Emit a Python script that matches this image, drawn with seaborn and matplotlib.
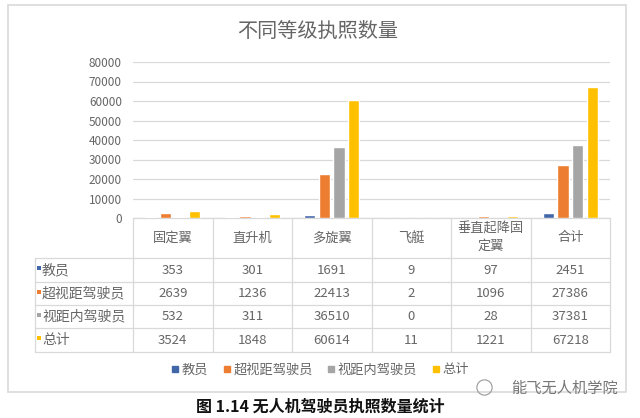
import numpy as np
import pandas as pd
import matplotlib
matplotlib.use("Agg")
import matplotlib.pyplot as plt
from matplotlib.lines import Line2D
from matplotlib.patches import Rectangle
import seaborn as sns

# ---------------- data ----------------
categories = ['固定翼', '直升机', '多旋翼', '飞艇', '垂直起降固定翼', '合计']
header_labels = ['固定翼', '直升机', '多旋翼', '飞艇', '垂直起降固\n定翼', '合计']
series_names = ['教员', '超视距驾驶员', '视距内驾驶员', '总计']

jiaoyuan = [353, 301, 1691, 9, 97, 2451]
chaoshiju = [2639, 1236, 22413, 2, 1096, 27386]
shijunei = [532, 311, 36510, 0, 28, 37381]
zongji = [3524, 1848, 60614, 11, 1221, 67218]

colors = ['#4267A8', '#ED7D31', '#A5A5A5', '#FFC000']

series_values = [jiaoyuan, chaoshiju, shijunei, zongji]
rows = []
for name, vals in zip(series_names, series_values):
    for cat, v in zip(categories, vals):
        rows.append({'类别': cat, '等级': name, '数量': v})
df = pd.DataFrame(rows)

# ---------------- style ----------------
sns.set_theme(style="white")
plt.rcParams['font.family'] = ['Noto Sans CJK SC', 'DejaVu Sans']
text_color = '#666666'
line_color = '#D9D9D9'

W, H = 640, 418
fig = plt.figure(figsize=(W / 100, H / 100), dpi=100)
fig.patch.set_facecolor('white')

# overlay in pixel coords (y going down) for table, legend, frame, caption
ov = fig.add_axes([0, 0, 1, 1])
ov.set_xlim(0, W)
ov.set_ylim(H, 0)
ov.axis('off')
ov.patch.set_visible(False)

# bar chart
ax = fig.add_axes([133 / W, (H - 218) / H, (610 - 133) / W, (218 - 62) / H])
sns.barplot(data=df, x='类别', y='数量', hue='等级', order=categories,
            hue_order=series_names, palette=colors, width=0.74, gap=0.23,
            saturation=1, ax=ax, legend=False)
ax.set_xlim(-0.5, len(categories) - 0.5)
ax.set_ylim(0, 80000)
ax.set_yticks(np.arange(0, 80001, 10000))
ax.yaxis.grid(True, color=line_color, linewidth=0.9)
ax.set_axisbelow(True)
for s in ax.spines.values():
    s.set_visible(False)
ax.set_xticks([])
ax.set_xlabel('')
ax.set_ylabel('')
ax.tick_params(axis='y', length=0, pad=8, labelsize=8.5, labelcolor=text_color)
ax.patch.set_visible(False)

# title
ov.text(318, 31, '不同等级执照数量', ha='center', va='center',
        fontsize=14.5, color=text_color)

# ---------------- data table ----------------
fig.canvas.draw()
edges = []
for i in range(len(categories) + 1):
    px = ax.transData.transform((i - 0.5, 0))
    edges.append(px[0])
y0 = H - ax.transData.transform((0, 0))[1]
row_lines = [y0, 258, 282, 305, 328, 352]
table_left = 35

ov.plot([edges[0], edges[-1]], [y0, y0], color=line_color, lw=0.9)
for yl in row_lines[1:]:
    ov.plot([table_left, edges[-1]], [yl, yl], color=line_color, lw=0.9)
for xe in edges:
    ov.plot([xe, xe], [y0, row_lines[-1]], color=line_color, lw=0.9)
ov.plot([table_left, table_left], [row_lines[1], row_lines[-1]], color=line_color, lw=0.9)

for i, lab in enumerate(header_labels):
    xc = (edges[i] + edges[i + 1]) / 2
    ov.text(xc, (row_lines[0] + row_lines[1]) / 2, lab, ha='center', va='center',
            fontsize=9.5, color=text_color, linespacing=1.4)

for r, (name, vals, c) in enumerate(zip(series_names, series_values, colors)):
    yc = (row_lines[r + 1] + row_lines[r + 2]) / 2
    ov.add_patch(Rectangle((table_left + 2, yc - 4), 4, 4, color=c, lw=0))
    ov.text(table_left + 7, yc, name, ha='left', va='center', fontsize=10,
            color=text_color)
    for i, v in enumerate(vals):
        xc = (edges[i] + edges[i + 1]) / 2
        ov.text(xc, yc, str(v), ha='center', va='center', fontsize=9.5,
                color=text_color)

# ---------------- legend ----------------
handles = [Line2D([], [], marker='s', linestyle='none', markersize=4,
                  markerfacecolor=c, markeredgecolor=c) for c in colors]
fig.legend(handles, series_names, loc='center', bbox_to_anchor=(320 / W, 1 - 370 / H),
           ncol=4, frameon=False, fontsize=9.5, handlelength=0.6,
           handletextpad=0.2, columnspacing=1.1, labelcolor=text_color)

# frame, caption, watermark
ov.add_patch(Rectangle((8, 5), 618, 387, fill=False, edgecolor=line_color, lw=1.2))
ov.text(320, 407, '图 1.14 无人机驾驶员执照数量统计', ha='center', va='center',
        fontsize=11.5, fontweight='bold', color='#111111')
ov.text(618, 388, '能飞无人机学院', ha='right', va='center', fontsize=11,
        color='#777777')
ov.plot([484], [387], marker='o', markersize=11, markerfacecolor='none',
        markeredgecolor='#999999', markeredgewidth=0.8, linestyle='none')

fig.savefig('out.png', dpi=100)
